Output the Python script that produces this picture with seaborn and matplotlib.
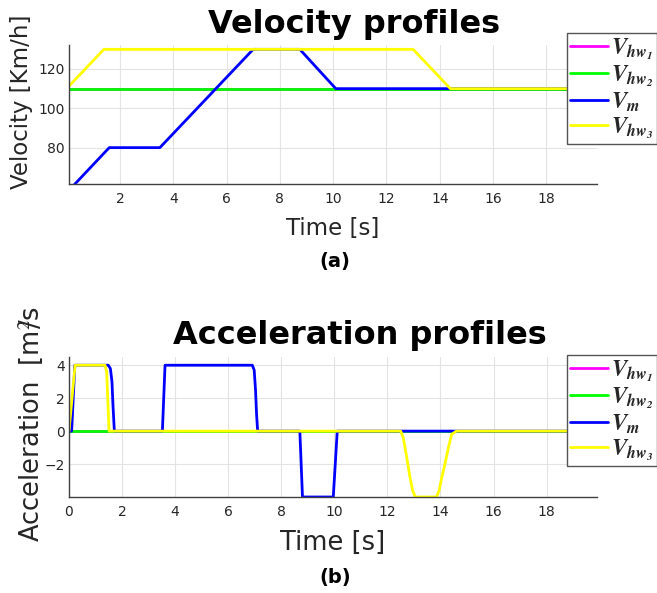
import matplotlib
matplotlib.use("Agg")
import matplotlib.pyplot as plt
import seaborn as sns

# velocity profiles [km/h]
vel_t_hw1 = [0.0, 19.9]
vel_hw1 = [110, 110]
vel_t_hw2 = [0.0, 19.9]
vel_hw2 = [110, 110]
vel_t_m = [0.0, 1.6, 3.5, 7.0, 8.75, 10.1, 19.9]
vel_m = [57, 80, 80, 130, 130, 110, 110]
vel_t_hw3 = [0.0, 1.4, 13.0, 14.4, 19.9]
vel_hw3 = [110, 130, 130, 110, 110]

# acceleration profiles [m/s^2]
acc_t_hw1 = [0.0, 19.9]
acc_hw1 = [0, 0]
acc_t_hw2 = [0.0, 19.9]
acc_hw2 = [0, 0]
acc_t_m = [0.0, 0.1, 0.22, 1.48, 1.56, 1.62, 1.66, 1.71, 3.52, 3.62, 6.91, 6.98,
           7.03, 7.07, 7.11, 8.70, 8.80, 9.96, 10.11, 19.9]
acc_m = [0, 0, 4, 4, 3.8, 3.0, 1.5, 0, 0, 4, 4, 3.7, 2.5, 1.0, 0, 0, -4, -4, 0, 0]
acc_t_hw3 = [0.0, 0.23, 1.36, 1.42, 1.51, 12.5, 12.6, 12.72, 12.85, 12.95, 13.05,
             13.85, 13.95, 14.05, 14.17, 14.3, 14.42, 14.6, 19.9]
acc_hw3 = [0, 4, 4, 3.6, 0, 0, -0.4, -1.5, -2.8, -3.6, -4, -4, -3.6, -2.8, -2.0,
           -1.0, -0.2, 0, 0]

labels = [r"$\mathbfit{V_{hw_1}}$", r"$\mathbfit{V_{hw_2}}$",
          r"$\mathbfit{V_m}$", r"$\mathbfit{V_{hw_3}}$"]
colors = ["#ff00ff", "#00ff00", "#0000ff", "#ffff00"]

sns.set_style("white")
plt.rcParams["font.family"] = ["DejaVu Sans"]
plt.rcParams["mathtext.fontset"] = "stix"

fig = plt.figure(figsize=(6.57, 5.93), dpi=100)
ax1 = fig.add_axes([0.105, 0.6897, 0.8037, 0.2344])
ax2 = fig.add_axes([0.105, 0.1619, 0.8037, 0.2361])

vel = [(vel_t_hw1, vel_hw1), (vel_t_hw2, vel_hw2), (vel_t_m, vel_m), (vel_t_hw3, vel_hw3)]
acc = [(acc_t_hw1, acc_hw1), (acc_t_hw2, acc_hw2), (acc_t_m, acc_m), (acc_t_hw3, acc_hw3)]

for (t, v), c, lab in zip(vel, colors, labels):
    sns.lineplot(x=t, y=v, color=c, lw=2, ax=ax1, label=lab, sort=False)
for (t, a), c, lab in zip(acc, colors, labels):
    sns.lineplot(x=t, y=a, color=c, lw=2, ax=ax2, label=lab, sort=False)

ax1.set_xlim(0.09, 19.9)
ax1.set_ylim(61.5, 132.2)
ax1.set_xticks(range(2, 19, 2))
ax1.set_yticks([80, 100, 120])
ax2.set_xlim(0, 19.9)
ax2.set_ylim(-4.0, 4.5)
ax2.set_xticks(range(0, 19, 2))
ax2.set_yticks([-2, 0, 2, 4])

for ax in (ax1, ax2):
    ax.grid(True, color="#e3e3e3", lw=0.8)
    sns.despine(ax=ax)
    for s in ("left", "bottom"):
        ax.spines[s].set_color("#404040")
        ax.spines[s].set_linewidth(1.0)
    ax.tick_params(direction="in", length=4, width=0.8, color="#404040",
                   labelcolor="#262626", labelsize=10, pad=6)
    ax.tick_params(axis="y", pad=3)

ax1.set_title("Velocity profiles", fontsize=23, fontweight="bold", color="black", x=0.54, pad=9)
ax2.set_title("Acceleration profiles", fontsize=23, fontweight="bold", color="black", x=0.551, pad=9)
ax1.set_xlabel("Time [s]", fontsize=16.5, color="#262626", labelpad=8)
ax2.set_xlabel("Time [s]", fontsize=18.5, color="#262626", labelpad=8)
ax1.set_ylabel("Velocity [Km/h]", fontsize=16.5, color="#262626")
ax2.set_ylabel(r"Acceleration  [m$^2\!\!\!$/s", fontsize=18.5, color="#262626")
ax1.yaxis.set_label_coords(-0.068, 0.59)
ax2.yaxis.set_label_coords(-0.045, 0.52)

fig.text(0.51, 1 - 262 / 593, "(a)", fontsize=14, fontweight="bold", color="black",
         ha="center", va="center")
fig.text(0.51, 1 - 577 / 593, "(b)", fontsize=14, fontweight="bold", color="black",
         ha="center", va="center")

for ax, top in ((ax1, 33), (ax2, 355)):
    leg = ax.legend(loc="upper left", bbox_to_anchor=(567 / 657, 1 - top / 593),
                    bbox_transform=fig.transFigure, fontsize=16.5, handlelength=1.65,
                    handletextpad=0.1, labelspacing=0.06, borderpad=0.15,
                    borderaxespad=0, fancybox=False, framealpha=1)
    leg.get_frame().set_edgecolor("#555555")
    leg.get_frame().set_linewidth(1.0)

fig.savefig("out.png", dpi=100)
